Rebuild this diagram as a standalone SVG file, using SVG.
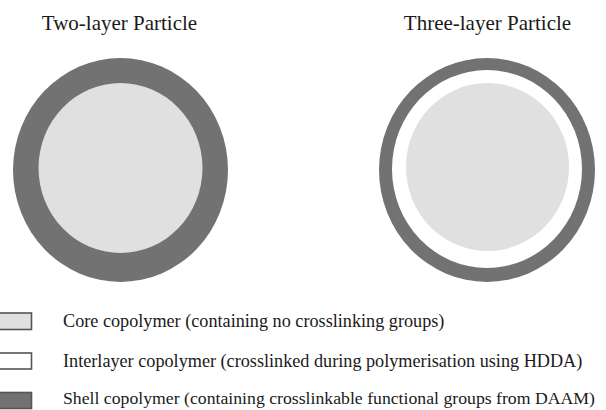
<svg xmlns="http://www.w3.org/2000/svg" width="606" height="410" viewBox="0 0 606 410">
<style>
.t{font-family:"Liberation Serif","Times New Roman",serif;fill:#1a1a1a}
.title{font-size:21px}
.leg{font-size:18.2px}
.shell{fill:#727272}
.core{fill:#e0e0e0}
.inter{fill:#ffffff}
.box{stroke:#555;stroke-width:1.6}
</style>
<rect width="606" height="410" fill="#fff"/>
<g id="two-layer">
<text class="t title" x="119.5" y="30" text-anchor="middle">Two-layer Particle</text>
<ellipse class="shell" cx="120.5" cy="170" rx="107.5" ry="112"/>
<ellipse class="core" cx="120.5" cy="168" rx="82" ry="85"/>
</g>
<g id="three-layer">
<text class="t title" x="487.5" y="30" text-anchor="middle">Three-layer Particle</text>
<ellipse class="shell" cx="487" cy="170" rx="108" ry="112"/>
<ellipse class="inter" cx="487" cy="169" rx="95" ry="99"/>
<ellipse class="core" cx="487.5" cy="167" rx="81.5" ry="84"/>
</g>
<g id="legend-core">
<rect class="box core" x="-2" y="313" width="33.5" height="16.5"/>
<text class="t leg" x="63" y="327">Core copolymer (containing no crosslinking groups)</text>
</g>
<g id="legend-interlayer">
<rect class="box inter" x="-2" y="353" width="33.5" height="16"/>
<text class="t leg" x="63" y="366.5">Interlayer copolymer (crosslinked during polymerisation using HDDA)</text>
</g>
<g id="legend-shell">
<rect class="box shell" x="-2" y="392.5" width="33.5" height="16"/>
<text class="t leg" x="63" y="404" style="font-size:17.6px" textLength="532" lengthAdjust="spacingAndGlyphs">Shell copolymer (containing crosslinkable functional groups from DAAM)</text>
</g>
<g id="connectors"/>
</svg>
